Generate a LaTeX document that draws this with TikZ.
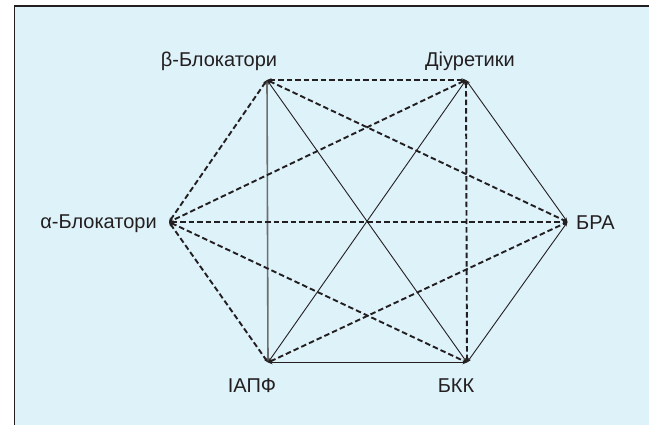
\documentclass[tikz,border=0pt]{standalone}
\usepackage{fontspec}
\setmainfont{Liberation Sans}
\usetikzlibrary{positioning, arrows.meta}

\definecolor{panelblue}{RGB}{222,242,250}
\definecolor{inkdark}{RGB}{35,31,32}
\definecolor{inkgray}{RGB}{110,110,110}

\begin{document}
\begin{tikzpicture}[x=1pt, y=-1pt,
    lbl/.style={font=\fontsize{20}{22}\selectfont, text=inkdark, inner sep=0pt},
    tip/.style={{Stealth[length=4.5pt,width=3.5pt]}-{Stealth[length=4.5pt,width=3.5pt]}},
    dashline/.style={tip, draw=inkdark, line width=1.9pt, dash pattern=on 5.5pt off 3pt},
    thinline/.style={tip, draw=inkdark, line width=0.9pt},
    boldline/.style={tip, draw=inkdark, line width=1.3pt},
    grayline/.style={tip, draw=inkgray, line width=1.6pt}]
        \useasboundingbox (0,0) rectangle (649,425);
        % Panel
        \fill[white] (0,0) rectangle (649,425);
        \fill[panelblue] (14.3,6) rectangle (649,425);
        \draw[inkdark, line width=1.2pt] (14.3,425) -- (14.3,6) -- (649,6);

        % Vertices
        \coordinate (beta) at (267,80);
        \coordinate (diur) at (466,80);
        \coordinate (alpha) at (169,222);
        \coordinate (bra) at (567.5,222);
        \coordinate (iapf) at (268,362.5);
        \coordinate (bkk) at (467,362.5);

        % Labels
        \node[lbl, anchor=base] (lbeta) at (219,67) {β-Блокатори};
        \node[lbl, anchor=base] (ldiur) at (470,67) {Діуретики};
        \node[lbl, anchor=base east] (lalpha) at (157,229) {α-Блокатори};
        \node[lbl, anchor=base west] (lbra) at (576,230) {БРА};
        \node[lbl, anchor=base] (liapf) at (252,392) {ІАПФ};
        \node[lbl, anchor=base] (lbkk) at (456,392) {БКК};

        % Solid connections
        \draw[grayline] (beta) -- (iapf);
        \draw[thinline] (beta) -- (bkk);
        \draw[thinline] (diur) -- (iapf);
        \draw[thinline] (diur) -- (bra);
        \draw[thinline] (bkk) -- (bra);
        \draw[boldline] (iapf) -- (bkk);

        % Dashed connections
        \draw[dashline] (beta) -- (diur);
        \draw[dashline] (beta) -- (alpha);
        \draw[dashline] (beta) -- (bra);
        \draw[dashline] (diur) -- (alpha);
        \draw[dashline] (diur) -- (bkk);
        \draw[dashline] (alpha) -- (bra);
        \draw[dashline] (alpha) -- (iapf);
        \draw[dashline] (alpha) -- (bkk);
        \draw[dashline] (iapf) -- (bra);
      \end{tikzpicture}
\end{document}
